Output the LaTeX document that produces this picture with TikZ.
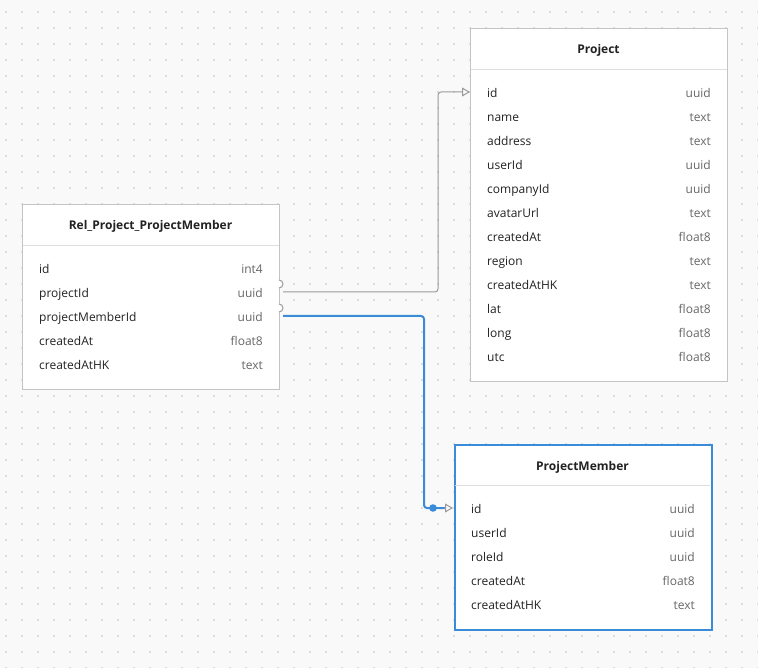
\documentclass[tikz,border=0pt]{standalone}
\usepackage{fontspec}
\setmainfont{Open Sans}
\usetikzlibrary{arrows.meta,calc}
\definecolor{bgc}{HTML}{F9F9F9}
\definecolor{dotc}{HTML}{DDDDDD}
\definecolor{bordc}{HTML}{C4C4C4}
\definecolor{linec}{HTML}{DDDDDD}
\definecolor{txtc}{HTML}{222222}
\definecolor{typc}{HTML}{666666}
\definecolor{bluec}{HTML}{3A8BD8}
\definecolor{grayconn}{HTML}{9A9A9A}
\tikzset{
  tablebox/.style={draw=bordc, fill=white, line width=1pt, inner sep=0pt, anchor=north west},
  selbox/.style={draw=bluec, fill=white, line width=2pt, inner sep=0pt, anchor=north west},
  headtxt/.style={font=\fontsize{12}{14}\selectfont\bfseries, text=txtc, inner sep=0pt, text height=9pt, text depth=3pt},
  coltxt/.style={font=\fontsize{12}{14}\selectfont, text=txtc, inner sep=0pt, anchor=west, text height=9pt, text depth=3pt},
  typtxt/.style={font=\fontsize{12}{14}\selectfont, text=typc, inner sep=0pt, anchor=east, text height=9pt, text depth=3pt},
  sepline/.style={draw=linec, line width=1pt},
  connG/.style={draw=grayconn, line width=1pt, rounded corners=3pt, -{Triangle[open, length=8pt, width=9pt]}},
  connB/.style={draw=bluec, line width=2pt, rounded corners=3pt},
}
\begin{document}
\begin{tikzpicture}[x=1pt,y=-1pt]
\fill[bgc] (0,0) rectangle (758,668);
\useasboundingbox (0,0) rectangle (758,668);
\foreach \i in {0,...,47} {\foreach \j in {0,...,41} {
  \fill[dotc] ({6+16*\i-0.8},{12+16*\j-0.8}) rectangle ++(1.6,1.6);
}}

% Project table
\node[tablebox, minimum width=257pt, minimum height=353pt] (proj) at (470,28) {};
\node[headtxt] (projh) at (598.5,51) {Project};
\draw[sepline] (470.5,69.5) -- (726.5,69.5);
\foreach \n/\t [count=\k from 0] in {id/uuid,name/text,address/text,userId/uuid,companyId/uuid,avatarUrl/text,createdAt/float8,region/text,createdAtHK/text,lat/float8,long/float8,utc/float8} {
  \node[coltxt] (projc\k) at (487,{94.5+24*\k}) {\n};
  \node[typtxt] (projt\k) at (711,{94.5+24*\k}) {\t};
}

% Rel table
\node[tablebox, minimum width=257pt, minimum height=185pt] (rel) at (22,204) {};
\node[headtxt] (relh) at (150.5,227) {Rel\_Project\_ProjectMember};
\draw[sepline] (22.5,245.5) -- (278.5,245.5);
\foreach \n/\t [count=\k from 0] in {id/int4,projectId/uuid,projectMemberId/uuid,createdAt/float8,createdAtHK/text} {
  \node[coltxt] (relc\k) at (39,{270.5+24*\k}) {\n};
  \node[typtxt] (relt\k) at (263,{270.5+24*\k}) {\t};
}

% ProjectMember table
\node[selbox, minimum width=257pt, minimum height=185pt] (pm) at (454,444) {};
\node[headtxt] (pmh) at (582.5,467) {ProjectMember};
\draw[sepline] (455,485.5) -- (710,485.5);
\foreach \n/\t [count=\k from 0] in {id/uuid,userId/uuid,roleId/uuid,createdAt/float8,createdAtHK/text} {
  \node[coltxt] (pmc\k) at (471,{510.5+24*\k}) {\n};
  \node[typtxt] (pmt\k) at (695,{510.5+24*\k}) {\t};
}

% connector anchors
\coordinate (relpid) at (279,292);
\coordinate (relpmid) at (279,316);
\coordinate (projid) at (470,92);
\coordinate (pmid) at (453,508);
\coordinate (bendA) at (438,92);
\coordinate (bendB) at (424,508);

% gray connector
\draw[connG] ($(relpid)+(4,0)$) -| (bendA) -- (projid);
\draw[grayconn, line width=1pt, fill=white] ($(relpid)+(0,-4)$) arc (90:-90:4);

% blue connector
\draw[connB] ($(relpmid)+(4,0)$) -| (bendB) -- ($(pmid)+(-8,0)$);
\draw[grayconn, line width=1pt, -{Triangle[open, length=8pt, width=9pt]}] ($(pmid)+(-9,0)$) -- (pmid);
\fill[bluec] ($(bendB)+(9,0)$) circle (3.8);
\draw[grayconn, line width=1pt, fill=white] ($(relpmid)+(0,-4)$) arc (90:-90:4);
\end{tikzpicture}
\end{document}
